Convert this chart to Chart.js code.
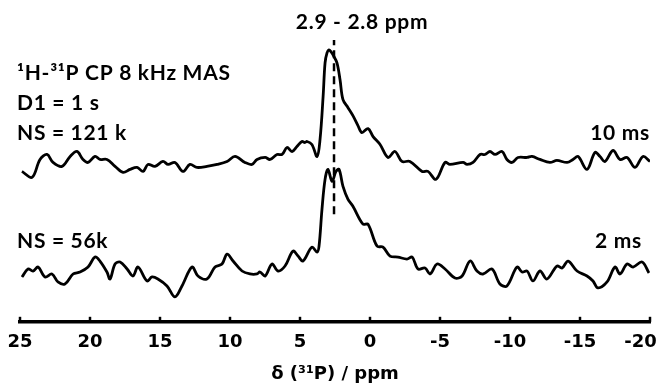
<!DOCTYPE html>
<html>
<head>
<meta charset="utf-8">
<script src="https://cdn.jsdelivr.net/npm/chart.js@4"></script>
<style>
  html, body { margin: 0; padding: 0; background: #fff; }
  #wrap { width: 660px; height: 386px; }
</style>
</head>
<body>
<div id="wrap"><canvas id="nmr"></canvas></div>
<script>
// chemical shift axis (ppm), reversed like a normal NMR plot
const xTicks = [25, 20, 15, 10, 5, 0, -5, -10, -15, -20];

// 10 ms contact time trace
const ppm10 = [24.86, 24.14, 23.57, 23.07, 22.64, 22.00, 21.42, 20.93, 20.50, 20.14, 19.64, 19.29, 18.79, 18.21,
  17.64, 17.14, 16.64, 16.21, 15.86, 15.36, 14.79, 14.42, 13.93, 13.36, 12.86, 12.36, 11.65, 10.92, 10.21, 9.64,
  8.93, 8.43, 8.07, 7.49, 7.14, 6.64, 6.28, 5.93, 5.57, 5.22, 4.86, 4.65, 4.50, 4.15, 3.78, 3.57, 3.35, 3.21,
  3.07, 2.93, 2.78, 2.64, 2.36, 2.14, 1.93, 1.57, 1.22, 0.86, 0.58, 0.14, -0.22, -0.72, -1.29, -1.78, -2.28,
  -2.85, -3.72, -4.14, -4.71, -5.36, -5.71, -6.65, -6.93, -7.36, -7.86, -8.21, -8.57, -8.93, -9.43, -9.78,
  -10.15, -10.57, -11.22, -11.57, -12.14, -12.85, -13.35, -14.08, -14.50, -14.86, -15.50, -16.07, -16.43,
  -16.78, -17.36, -17.86, -18.36, -18.93, -19.50, -20.0];
const int10 = [-9, -15, 3, 8, 0, -4, 6, 11, 3, 0, 6, 3, 3, -4,
  -10, -7, -5, -9, -2, -4, 1, -2, 0, -9, -2, -5, -4, -2, 1, 6,
  0, -2, 3, 5, 3, 8, 8, 15, 11, 16, 21, 20, 21, 18, 6, 23, 66, 100,
  110, 113, 111, 108, 100, 83, 63, 55, 47, 37, 30, 34, 26, 18, 5, 11, 1,
  1, -9, -9, -17, 0, -2, 0, -2, 0, 8, 8, 11, 8, 11, 3,
  0, 5, 5, 6, 3, 0, 2, 0, 3, 6, -7, 10, 6,
  1, 12, 3, 5, -5, 6, 1];

// 2 ms contact time trace
const ppm2 = [24.86, 24.43, 24.07, 23.71, 23.21, 22.72, 22.29, 21.79, 21.21, 20.71, 20.14, 19.64, 19.29, 18.79,
  18.57, 18.21, 17.85, 17.35, 16.93, 16.57, 15.93, 15.57, 15.15, 14.50, 13.93, 13.43, 12.71, 12.29, 11.65,
  11.07, 10.57, 10.21, 9.78, 9.14, 8.57, 8.07, 7.86, 7.49, 7.00, 6.57, 6.07, 5.50, 5.14, 4.79, 4.15, 3.78, 3.64,
  3.43, 3.21, 3.00, 2.71, 2.43, 2.21, 1.93, 1.57, 1.22, 0.50, 0.14, -0.50, -0.93, -1.43, -2.00, -2.64, -3.01,
  -3.43, -3.93, -4.29, -4.79, -5.36, -6.07, -6.58, -7.15, -7.64, -8.07, -8.71, -9.28, -9.78, -10.50, -10.86,
  -11.22, -11.64, -12.14, -12.64, -13.35, -13.72, -14.15, -14.79, -15.50, -15.93, -16.28, -16.93, -17.50,
  -17.86, -18.36, -18.79, -19.43, -19.93];
const int2 = [-6, 2, 0, 4, -6, -3, -11, -13, -3, -1, 4, 14, 10, -1,
  -8, 7, 9, 2, -5, 4, -10, -6, -8, -15, -26, -15, 4, -5, -8,
  4, 7, 17, 10, 0, -3, -3, -1, -5, 7, 0, 5, 20, 15, 10, 24, 19, 25,
  62, 92, 102, 90, 100, 102, 85, 72, 65, 47, 47, 25, 24, 15, 14, 12, 14,
  2, 3, -3, 7, 2, -7, -5, 10, 0, -3, 2, -13, -15, 4, -1,
  0, -10, 0, -8, 5, 3, 10, 0, -5, -10, -17, -11, 4,
  -3, 7, 4, 9, -2];

// vertical stacking of the two spectra
const offset10 = 109;
const offset2 = 0;

// dashed marker at the peak maximum
const markerPpm = 2.57;
const markerRange = [57, 232];

function toPoints(xs, ys, shift) {
  return xs.map((x, i) => ({ x: x, y: ys[i] + shift }));
}

const annotations = {
  id: 'annotations',
  afterDraw(chart) {
    const ctx = chart.ctx;
    const xs = chart.scales.x;
    const bottom = chart.chartArea.bottom;

    // small tick marks pointing up from the axis line
    ctx.save();
    ctx.strokeStyle = '#000';
    ctx.lineWidth = 2.5;
    xTicks.forEach(v => {
      const px = Math.round(xs.getPixelForValue(v));
      ctx.beginPath();
      ctx.moveTo(px, bottom);
      ctx.lineTo(px, bottom - 5);
      ctx.stroke();
    });

    ctx.fillStyle = '#000';
    ctx.textBaseline = 'middle';
    ctx.font = 'bold 21px Lato, "Open Sans", sans-serif';
    ctx.letterSpacing = '0.7px';
    ctx.textAlign = 'center';
    ctx.fillText('2.9 - 2.8 ppm', 362, 22);

    ctx.textAlign = 'left';
    ctx.fillText('\u00b9H-\u00b3\u00b9P CP 8 kHz MAS', 17, 73);
    ctx.fillText('D1 = 1 s', 17, 103);
    ctx.fillText('NS = 121 k', 17, 133);
    ctx.fillText('NS = 56k', 17, 241);

    ctx.textAlign = 'right';
    ctx.fillText('10 ms', 650, 133);
    ctx.fillText('2 ms', 642, 241);
    ctx.restore();
  }
};

new Chart(document.getElementById('nmr'), {
  type: 'line',
  data: {
    datasets: [
      {
        label: '10 ms',
        data: toPoints(ppm10, int10, offset10),
        borderColor: '#000',
        borderWidth: 2.8,
        pointRadius: 0,
        tension: 0.35,
        fill: false
      },
      {
        label: '2 ms',
        data: toPoints(ppm2, int2, offset2),
        borderColor: '#000',
        borderWidth: 2.8,
        pointRadius: 0,
        tension: 0.35,
        fill: false
      },
      {
        label: 'marker',
        data: [{ x: markerPpm, y: markerRange[0] }, { x: markerPpm, y: markerRange[1] }],
        borderColor: '#000',
        borderWidth: 2.5,
        borderDash: [8, 5],
        pointRadius: 0,
        fill: false
      }
    ]
  },
  options: {
    responsive: true,
    maintainAspectRatio: false,
    animation: false,
    layout: {
      autoPadding: false,
      padding: { left: 20, right: 10, top: 23, bottom: 1 }
    },
    plugins: {
      legend: { display: false },
      tooltip: { enabled: false }
    },
    scales: {
      x: {
        type: 'linear',
        reverse: true,
        min: -20,
        max: 25,
        afterBuildTicks: axis => {
          axis.ticks = xTicks.map(v => ({ value: v }));
        },
        afterFit: axis => {
          // let the end labels hang over the plot edges
          axis.paddingLeft = 0;
          axis.paddingRight = 0;
        },
        grid: {
          display: true,
          drawOnChartArea: false,
          drawTicks: false
        },
        border: { display: true, color: '#000', width: 3.5 },
        ticks: {
          color: '#000',
          padding: 10,
          maxRotation: 0,
          // trailing spaces nudge the last label back inside the canvas
          callback: v => (v === -20 ? '-20   ' : String(v)),
          font: { family: '"DejaVu Sans"', size: 18, weight: 'bold' }
        },
        title: {
          display: true,
          text: '\u03b4 (\u00b3\u00b9P) / ppm',
          color: '#000',
          padding: { top: 0, bottom: 0 },
          font: { family: '"DejaVu Sans"', size: 18, weight: 'bold' }
        }
      },
      y: {
        display: false,
        min: -51,
        max: 249
      }
    }
  },
  plugins: [annotations]
});
</script>
</body>
</html>
